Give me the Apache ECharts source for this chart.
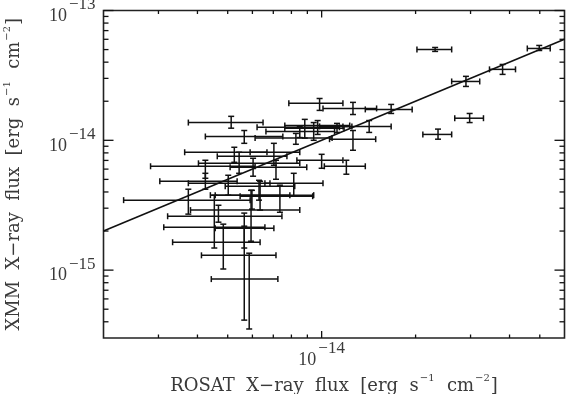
<!DOCTYPE html>
<html>
<head>
<meta charset="utf-8">
<script src="https://cdn.jsdelivr.net/npm/echarts@6/dist/echarts.min.js"></script>
<style>
html, body { margin: 0; padding: 0; background: #fff; }
#chart { width: 567px; height: 394px; }
</style>
</head>
<body>
<div id="chart"></div>
<script>
// all fluxes in units of 1e-15 erg s^-1 cm^-2
const UNIT = 1e-15;

const rosat   = [23.1, 49.8, 38.0, 29.0, 29.8, 23.6, 9.85, 12.6, 16.7, 10.0, 12.0, 5.13, 14.2, 12.6, 8.83, 9.43, 9.71, 11.2, 5.65, 8.27, 5.25, 7.03, 5.44, 4.24, 6.03, 7.14, 4.24, 5.02, 8.14, 6.30, 7.35, 3.74, 5.98, 6.35, 4.67, 4.53, 5.65, 4.84, 5.65, 5.86, 5.94, 8.51];
const rosatLo = [20.2, 45.6, 34.5, 26.1, 26.7, 21.1, 7.85, 10.1, 13.8, 8.33, 10.2, 3.74, 11.7, 10.6, 6.21, 7.62, 7.62, 9.85, 4.24, 6.12, 3.64, 5.90, 4.63, 2.83, 4.03, 5.09, 3.03, 3.74, 6.58, 4.91, 5.48, 2.32, 4.40, 4.56, 3.21, 3.12, 4.56, 3.33, 4.12, 4.43, 3.80, 6.63];
const rosatHi = [26.1, 54.0, 41.8, 32.1, 33.0, 26.1, 11.7, 15.0, 19.5, 11.7, 13.8, 6.49, 16.7, 14.9, 11.4, 11.8, 12.3, 12.5, 7.51, 10.8, 6.68, 8.51, 7.74, 6.12, 8.51, 8.96, 5.36, 6.83, 10.1, 8.20, 9.36, 5.90, 7.91, 9.43, 7.46, 6.58, 7.03, 6.35, 7.14, 7.24, 8.51, 11.0];

const xmm   = [50.1, 51.0, 35.2, 28.4, 14.8, 11.1, 19.3, 17.6, 17.3, 7.02, 6.31, 13.7, 12.8, 10.2, 12.6, 12.4, 13.0, 12.8, 10.7, 10.4, 8.09, 8.09, 7.53, 6.31, 6.65, 6.20, 4.84, 4.67, 4.67, 4.43, 3.71, 3.46, 3.78, 3.78, 2.60, 2.14, 2.10, 1.64, 1.30, 0.853, 2.90, 11.7];
const xmmLo = [48.4, 49.2, 32.2, 26.0, 13.7, 10.2, 17.0, 15.8, 16.1, 6.09, 5.48, 12.4, 11.5, 8.38, 10.4, 10.0, 11.1, 11.5, 9.48, 9.32, 6.77, 6.42, 5.57, 5.10, 5.29, 5.01, 4.20, 3.78, 3.71, 3.46, 2.79, 2.70, 2.95, 2.90, 2.34, 1.48, 1.48, 1.02, 0.412, 0.352, 1.67, 10.5];
const xmmHi = [51.9, 53.8, 38.4, 31.1, 16.1, 12.2, 21.0, 19.6, 18.9, 7.80, 7.02, 15.3, 14.2, 11.9, 14.5, 13.7, 14.2, 13.5, 11.9, 11.3, 8.84, 9.48, 8.09, 7.02, 7.27, 7.02, 5.57, 5.38, 5.57, 4.92, 4.51, 4.20, 4.12, 4.84, 3.16, 3.78, 2.75, 2.26, 2.18, 1.35, 4.12, 12.8];

// one-to-one line
const fitX = [2, 60];
const fitY = [2, 60];

// axis ranges and ticks
const xRange = [2, 60];
const yRange = [0.3, 100];
const xMajorTicks = [10];
const xMinorTicks = [3, 4, 5, 6, 7, 8, 9, 20, 30, 40, 50];
const yMajorTicks = [1, 10, 100];
const yMinorTicks = [0.4, 0.5, 0.6, 0.7, 0.8, 0.9, 2, 3, 4, 5, 6, 7, 8, 9, 20, 30, 40, 50, 60, 70, 80, 90];

const INK = '#111';
const TXT = '#3a3a3a';
const LFONT = '"Liberation Serif", serif';
const TFONT = '"DejaVu Serif", serif';

const errData = rosat.map((x, i) => [
  x * UNIT, xmm[i] * UNIT,
  rosatLo[i] * UNIT, rosatHi[i] * UNIT,
  xmmLo[i] * UNIT, xmmHi[i] * UNIT
]);

function seg(x1, y1, x2, y2, w) {
  return {
    type: 'line',
    shape: { x1: x1, y1: y1, x2: x2, y2: y2 },
    style: { stroke: INK, lineWidth: w || 1.5, fill: null }
  };
}

function renderErr(params, api) {
  const c = api.coord([api.value(0), api.value(1)]);
  const l = api.coord([api.value(2), api.value(1)]);
  const r = api.coord([api.value(3), api.value(1)]);
  const lo = api.coord([api.value(0), api.value(4)]);
  const hi = api.coord([api.value(0), api.value(5)]);
  const cap = 3;
  return {
    type: 'group',
    children: [
      seg(l[0], c[1], r[0], c[1]),
      seg(l[0], c[1] - cap, l[0], c[1] + cap),
      seg(r[0], c[1] - cap, r[0], c[1] + cap),
      seg(c[0], lo[1], c[0], hi[1]),
      seg(c[0] - cap, lo[1], c[0] + cap, lo[1]),
      seg(c[0] - cap, hi[1], c[0] + cap, hi[1])
    ]
  };
}

// tick marks on all four sides of the frame
function renderXTick(params, api) {
  const p = api.coord([api.value(0), 10 * UNIT]);
  const cs = params.coordSys;
  const len = api.value(2);
  return {
    type: 'group',
    children: [
      seg(p[0], cs.y + cs.height, p[0], cs.y + cs.height - len, 1.3),
      seg(p[0], cs.y, p[0], cs.y + len, 1.3)
    ]
  };
}

function renderYTick(params, api) {
  const p = api.coord([10 * UNIT, api.value(1)]);
  const cs = params.coordSys;
  const len = api.value(2);
  return {
    type: 'group',
    children: [
      seg(cs.x, p[1], cs.x + len, p[1], 1.3),
      seg(cs.x + cs.width, p[1], cs.x + cs.width - len, p[1], 1.3)
    ]
  };
}

const xTickData = xMajorTicks.map(v => [v * UNIT, 10 * UNIT, 7])
  .concat(xMinorTicks.map(v => [v * UNIT, 10 * UNIT, 3.5]));
const yTickData = yMajorTicks.map(v => [10 * UNIT, v * UNIT, 10])
  .concat(yMinorTicks.map(v => [10 * UNIT, v * UNIT, 5]));

function powLabel(value) {
  const e = Math.round(Math.log10(value));
  if (Math.abs(Math.log10(value) - e) > 1e-6) return '';
  return '{b|10}{s|\u2212' + Math.abs(e) + '}';
}

const labelRich = {
  b: { fontFamily: LFONT, fontSize: 18, color: TXT, padding: [11, 0, 0, 0] },
  s: { fontFamily: LFONT, fontSize: 17, color: TXT, padding: [0, 0, 11, 2] }
};
const nameRich = {
  t: { fontFamily: TFONT, fontSize: 18, color: TXT, padding: [5, 0, 0, 0] },
  s: { fontFamily: TFONT, fontSize: 10, color: TXT, padding: [0, 1, 10, 1] }
};

const chart = echarts.init(document.getElementById('chart'), null, { renderer: 'canvas' });

chart.setOption({
  animation: false,
  backgroundColor: '#fff',
  grid: {
    left: 103.5, right: 2.5, top: 10.5, bottom: 56,
    outerBoundsMode: 'none',
    containLabel: false,
    show: true, borderColor: '#222', borderWidth: 1.6, backgroundColor: 'transparent'
  },
  xAxis: {
    type: 'log',
    logBase: 10,
    min: xRange[0] * UNIT,
    max: xRange[1] * UNIT,
    axisLine: { show: false },
    axisTick: { show: false },
    splitLine: { show: false },
    axisLabel: { margin: 2, formatter: powLabel, rich: labelRich, showMinLabel: true, showMaxLabel: true },
    name: '{t|ROSAT  X\u2212ray  flux  [erg  s}{s|\u22121}{t|  cm}{s|\u22122}{t|]}',
    nameLocation: 'middle',
    nameGap: 26,
    nameTextStyle: { rich: nameRich }
  },
  yAxis: {
    type: 'log',
    logBase: 10,
    min: yRange[0] * UNIT,
    max: yRange[1] * UNIT,
    axisLine: { show: false },
    axisTick: { show: false },
    splitLine: { show: false },
    axisLabel: { margin: 8, formatter: powLabel, rich: labelRich, showMinLabel: true, showMaxLabel: true },
    name: '{t|XMM  X\u2212ray  flux  [erg  s}{s|\u22121}{t|  cm}{s|\u22122}{t|]}',
    nameLocation: 'middle',
    nameRotate: 90,
    nameGap: 80,
    nameTextStyle: { rich: nameRich }
  },
  series: [
    {
      type: 'line',
      data: fitX.map((x, i) => [x * UNIT, fitY[i] * UNIT]),
      symbol: 'none',
      lineStyle: { color: INK, width: 1.6 },
      silent: true
    },
    {
      type: 'custom',
      data: errData,
      encode: { x: 0, y: 1 },
      renderItem: renderErr,
      silent: true
    },
    {
      type: 'custom',
      data: xTickData,
      encode: { x: 0, y: 1 },
      renderItem: renderXTick,
      silent: true
    },
    {
      type: 'custom',
      data: yTickData,
      encode: { x: 0, y: 1 },
      renderItem: renderYTick,
      silent: true
    }
  ]
});
</script>
</body>
</html>
